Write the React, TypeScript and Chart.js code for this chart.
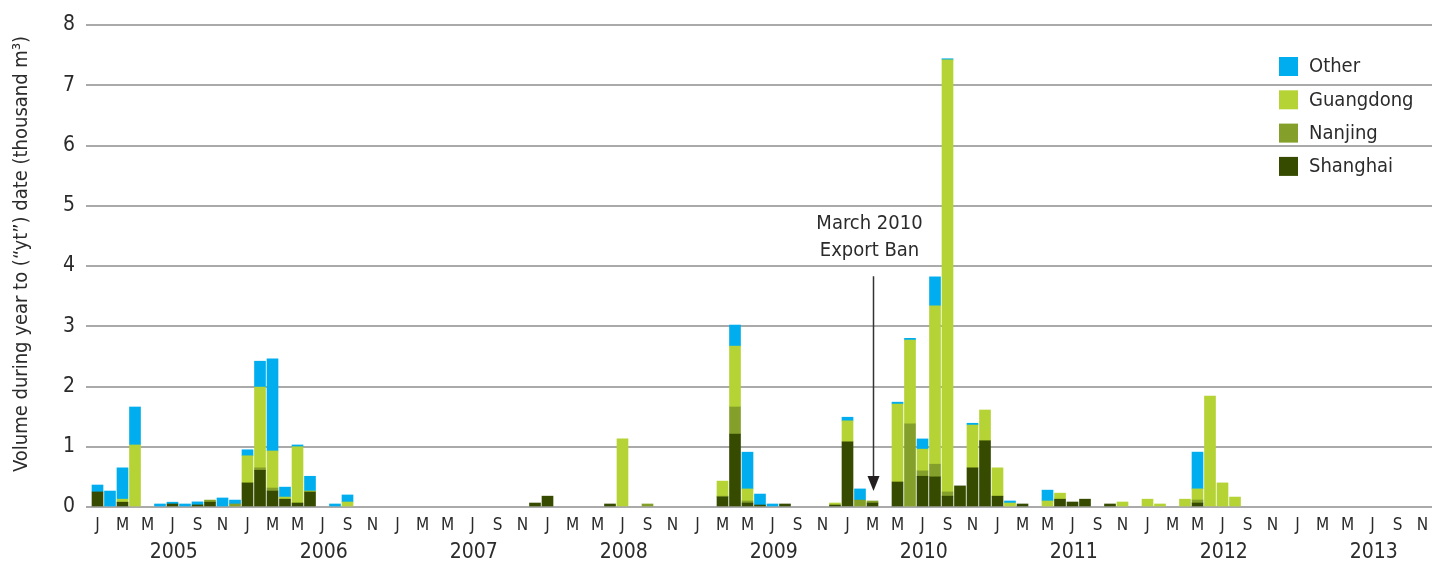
import React, { useEffect, useRef } from "react";
import { Chart, registerables } from "chart.js";

Chart.register(...registerables);

const FONT = '"Liberation Sans Narrow", "DejaVu Sans Condensed", "Arial Narrow", sans-serif';

// ---- data (monthly, Jan 2005 .. Dec 2013), thousand m³ ----
const YEARS = [2005, 2006, 2007, 2008, 2009, 2010, 2011, 2012, 2013];
const MONTH_LETTERS = ["J", "F", "M", "A", "M", "J", "J", "A", "S", "O", "N", "D"];
const Y_TICKS = [0, 1, 2, 3, 4, 5, 6, 7, 8];

const SHANGHAI = [
  /*2005*/ 0.25, 0, 0.08, 0, 0, 0, 0.05, 0, 0.035, 0.08, 0, 0,
  /*2006*/ 0.4, 0.61, 0.265, 0.13, 0.066, 0.25, 0, 0, 0, 0, 0, 0,
  /*2007*/ 0, 0, 0, 0, 0, 0, 0, 0, 0, 0, 0, 0.066,
  /*2008*/ 0.18, 0, 0, 0, 0, 0.05, 0, 0, 0, 0, 0, 0,
  /*2009*/ 0, 0, 0.166, 1.21, 0.066, 0.033, 0, 0.05, 0, 0, 0, 0.033,
  /*2010*/ 1.08, 0, 0.066, 0, 0.415, 0, 0.51, 0.5, 0.18, 0.35, 0.65, 1.1,
  /*2011*/ 0.18, 0, 0.05, 0, 0, 0.13, 0.083, 0.13, 0, 0.05, 0, 0,
  /*2012*/ 0, 0, 0, 0, 0.066, 0, 0, 0, 0, 0, 0, 0,
  /*2013*/ 0, 0, 0, 0, 0, 0, 0, 0, 0, 0, 0, 0,
];

const NANJING = [
  /*2005*/ 0, 0, 0, 0, 0, 0, 0, 0, 0, 0.035, 0, 0.05,
  /*2006*/ 0, 0.04, 0.05, 0, 0, 0, 0, 0, 0, 0, 0, 0,
  /*2007*/ 0, 0, 0, 0, 0, 0, 0, 0, 0, 0, 0, 0,
  /*2008*/ 0, 0, 0, 0, 0, 0, 0, 0, 0.05, 0, 0, 0,
  /*2009*/ 0, 0, 0.014, 0.45, 0.034, 0, 0, 0, 0, 0, 0, 0,
  /*2010*/ 0, 0.115, 0.034, 0, 0, 1.38, 0.09, 0.21, 0.07, 0, 0, 0,
  /*2011*/ 0, 0, 0, 0, 0, 0, 0, 0, 0, 0, 0, 0,
  /*2012*/ 0, 0, 0, 0, 0.05, 0, 0, 0, 0, 0, 0, 0,
  /*2013*/ 0, 0, 0, 0, 0, 0, 0, 0, 0, 0, 0, 0,
];

const GUANGDONG = [
  /*2005*/ 0, 0, 0.05, 1.03, 0, 0, 0, 0, 0, 0, 0, 0,
  /*2006*/ 0.45, 1.34, 0.615, 0.035, 0.934, 0.015, 0, 0, 0.083, 0, 0, 0,
  /*2007*/ 0, 0, 0, 0, 0, 0, 0, 0, 0, 0, 0, 0,
  /*2008*/ 0, 0, 0, 0, 0, 0, 1.13, 0, 0, 0, 0, 0,
  /*2009*/ 0, 0, 0.25, 1.01, 0.2, 0, 0, 0, 0, 0, 0, 0.033,
  /*2010*/ 0.35, 0, 0, 0, 1.295, 1.39, 0.36, 2.63, 7.17, 0, 0.71, 0.51,
  /*2011*/ 0.47, 0.066, 0, 0, 0.1, 0.1, 0, 0, 0, 0, 0.083, 0,
  /*2012*/ 0.13, 0.05, 0, 0.13, 0.185, 1.84, 0.4, 0.165, 0, 0, 0, 0,
  /*2013*/ 0, 0, 0, 0, 0, 0, 0, 0, 0, 0, 0, 0,
];

const OTHER = [
  /*2005*/ 0.115, 0.265, 0.52, 0.63, 0, 0.05, 0.03, 0.05, 0.05, 0, 0.15, 0.065,
  /*2006*/ 0.1, 0.43, 1.53, 0.165, 0.03, 0.245, 0, 0.05, 0.117, 0, 0, 0,
  /*2007*/ 0, 0, 0, 0, 0, 0, 0, 0, 0, 0, 0, 0,
  /*2008*/ 0, 0, 0, 0, 0, 0, 0, 0, 0, 0, 0, 0,
  /*2009*/ 0, 0, 0, 0.35, 0.61, 0.182, 0.05, 0, 0, 0, 0, 0,
  /*2010*/ 0.06, 0.185, 0, 0, 0.03, 0.03, 0.17, 0.48, 0.02, 0, 0.03, 0,
  /*2011*/ 0, 0.034, 0, 0, 0.18, 0, 0, 0, 0, 0, 0, 0,
  /*2012*/ 0, 0, 0, 0, 0.61, 0, 0, 0, 0, 0, 0, 0,
  /*2013*/ 0, 0, 0, 0, 0, 0, 0, 0, 0, 0, 0, 0,
];

const SERIES_NAMES = ["Shanghai", "Nanjing", "Guangdong", "Other"];
const SERIES_COLORS = ["#364A00", "#84A02A", "#B5D334", "#00AEEF"];
const SERIES_VALUES = [SHANGHAI, NANJING, GUANGDONG, OTHER];

const BAN_MONTH_INDEX = 62; // March 2010
const BAN_LABEL = ["March 2010", "Export Ban"];
const Y_TITLE = "Volume during year to (\u201Cyt\u201D) date (thousand m\u00B3)";

const TEXT_COLOR = "#2b2b2b";

const extrasPlugin = {
  id: "extras",
  afterDraw(chart: any) {
    const ctx = chart.ctx;
    const xs = chart.scales.x;
    const ys = chart.scales.y;
    ctx.save();

    // y-axis title
    ctx.fillStyle = TEXT_COLOR;
    ctx.font = `20px ${FONT}`;
    ctx.textAlign = "center";
    ctx.textBaseline = "middle";
    ctx.save();
    ctx.translate(22, ys.getPixelForValue(4.2));
    ctx.rotate(-Math.PI / 2);
    ctx.fillText(Y_TITLE, 0, 0);
    ctx.restore();

    // year labels
    ctx.font = `21px ${FONT}`;
    YEARS.forEach((yr, k) => {
      const x = xs.getPixelForValue(k * 12 + 6.1);
      ctx.fillText(String(yr), x, 553);
    });

    // annotation
    const ax = xs.getPixelForValue(BAN_MONTH_INDEX);
    ctx.font = `20px ${FONT}`;
    ctx.fillText(BAN_LABEL[0], ax - 3, ys.getPixelForValue(4.7));
    ctx.fillText(BAN_LABEL[1], ax - 3, ys.getPixelForValue(4.25));
    const yTop = ys.getPixelForValue(3.83);
    const yTip = ys.getPixelForValue(0.265);
    ctx.strokeStyle = "#333";
    ctx.lineWidth = 1.5;
    ctx.beginPath();
    ctx.moveTo(ax + 1, yTop);
    ctx.lineTo(ax + 1, yTip - 12);
    ctx.stroke();
    ctx.fillStyle = "#231f20";
    ctx.beginPath();
    ctx.moveTo(ax + 1 - 6, yTip - 15);
    ctx.lineTo(ax + 1 + 6, yTip - 15);
    ctx.lineTo(ax + 1, yTip);
    ctx.closePath();
    ctx.fill();

    // legend (top to bottom: reverse of stacking)
    ctx.font = `20px ${FONT}`;
    ctx.textAlign = "left";
    ctx.textBaseline = "middle";
    const order = [3, 2, 1, 0];
    order.forEach((si, k) => {
      const top = 57 + k * 33.3;
      ctx.fillStyle = SERIES_COLORS[si];
      ctx.fillRect(1279, top, 19, 19);
      ctx.fillStyle = TEXT_COLOR;
      ctx.fillText(SERIES_NAMES[si], 1309, top + 10);
    });

    ctx.restore();
  },
};

export default function App() {
  const canvasRef = useRef<HTMLCanvasElement | null>(null);

  useEffect(() => {
    const canvas = canvasRef.current;
    if (!canvas) return;
    const datasets = SERIES_NAMES.map((name, si) => ({
      label: name,
      data: SERIES_VALUES[si].map((v, i) => ({ x: i, y: v === 0 ? null : v })),
      backgroundColor: SERIES_COLORS[si],
      borderWidth: 0,
      barThickness: 11,
    }));

    const chart = new Chart(canvas, {
      type: "bar",
      data: { datasets: datasets as any },
      options: {
        responsive: false,
        animation: false,
        layout: { padding: { top: 25, left: 0, right: 0, bottom: 0 } },
        plugins: {
          legend: { display: false },
          tooltip: { enabled: false },
        },
        scales: {
          x: {
            type: "linear",
            stacked: true,
            offset: false,
            min: -0.92,
            max: 106.76,
            grid: { display: false, drawTicks: false },
            border: { display: false },
            afterBuildTicks: (scale: any) => {
              const t: any[] = [];
              for (let i = 0; i <= 106; i += 2) t.push({ value: i });
              scale.ticks = t;
            },
            afterFit: (scale: any) => {
              scale.height = 78;
              scale.paddingLeft = 0;
              scale.paddingRight = 0;
            },
            ticks: {
              includeBounds: false,
              autoSkip: false,
              maxRotation: 0,
              padding: 8,
              color: TEXT_COLOR,
              font: { family: FONT, size: 17 },
              callback: (v: any) => MONTH_LETTERS[Math.round(Number(v)) % 12],
            },
          },
          y: {
            stacked: true,
            min: 0,
            max: 8,
            afterBuildTicks: (scale: any) => {
              scale.ticks = Y_TICKS.map((v) => ({ value: v }));
            },
            afterFit: (scale: any) => {
              scale.width = 86;
            },
            grid: { color: "#aaaaaa", lineWidth: 2, drawTicks: false },
            border: { display: false },
            ticks: {
              padding: 11,
              color: TEXT_COLOR,
              font: { family: FONT, size: 21 },
            },
          },
        },
      },
      plugins: [extrasPlugin],
    });
    return () => chart.destroy();
  }, []);

  return (
    <div style={{ position: "absolute", left: 0, top: 0, width: 1432, height: 585, background: "#fff" }}>
      <canvas ref={canvasRef} width={1432} height={585} style={{ width: 1432, height: 585 }} />
    </div>
  );
}
